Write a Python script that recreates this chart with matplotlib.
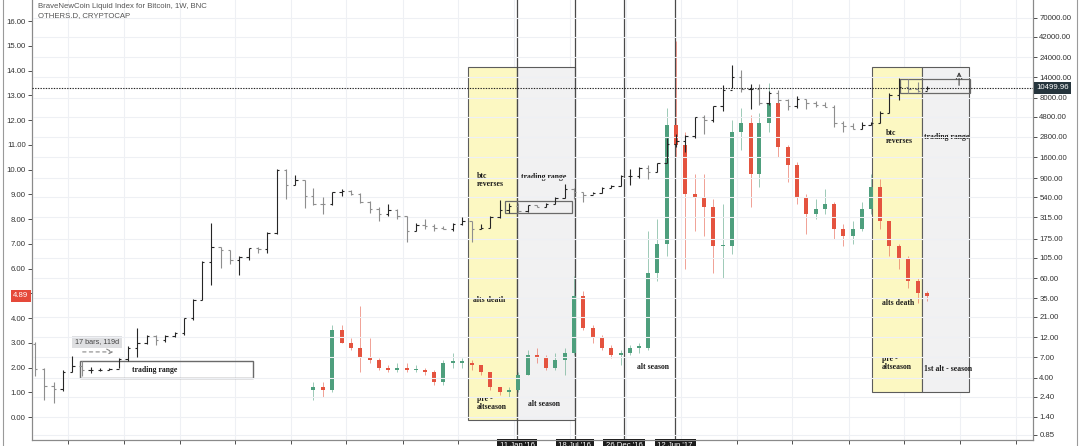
import datetime as dt
import numpy as np
import matplotlib
matplotlib.use("Agg")
import matplotlib.pyplot as plt
import matplotlib.dates as mdates
from matplotlib.patches import Rectangle
from matplotlib.lines import Line2D

plt.rcParams['font.family'] = ['Liberation Sans', 'DejaVu Sans']

# ---------------- data (monthly) ----------------
btc_start = (2011, 9)
btc_first_open = 10.0
btc_close = [5.1, 3.25, 3.0, 4.7,
             5.5, 4.9, 4.9, 5.0, 5.15, 6.7, 9.1, 10.2, 12.4, 11.2, 12.6, 13.5,
             20.4, 33.4, 93, 139, 129, 97, 106, 135, 133, 204, 1130, 760,
             860, 565, 455, 445, 630, 640, 585, 480, 390, 340, 380, 320,
             217, 254, 244, 236, 230, 263, 284, 230, 236, 313, 377, 430,
             368, 437, 416, 448, 531, 673, 624, 573, 609, 700, 742, 964,
             970, 1190, 1080, 1350, 2300, 2480, 2870, 4730, 4340, 6470, 10000, 14000,
             10200, 10300, 6900, 9250, 7500, 6400, 7730, 7000, 6600, 6300, 4000, 3700,
             3440, 3800, 4100, 5300, 8550, 10800, 10100, 9600, 10499.96]
btc_high = [10.5, 5.3, 3.6, 4.9,
            7.2, 6.3, 5.4, 5.3, 5.2, 6.8, 9.6, 15.4, 12.9, 12.7, 12.8, 13.8,
            20.6, 34, 95, 266, 140, 129, 111, 135, 140, 210, 1165, 1150,
            1000, 860, 690, 540, 630, 680, 650, 600, 490, 410, 450, 390,
            320, 270, 300, 260, 246, 265, 315, 285, 260, 325, 500, 465,
            460, 440, 440, 465, 540, 780, 700, 625, 615, 720, 750, 975,
            1150, 1210, 1290, 1350, 2700, 2980, 2920, 4750, 4980, 6470, 11400, 19700,
            17200, 11800, 11700, 9760, 9990, 7770, 8500, 7760, 7400, 7100, 6550, 4300,
            4100, 4200, 4150, 5650, 9100, 13800, 13200, 12300, 10950]
btc_low = [4.2, 2.2, 2.0, 2.8,
           4.7, 4.2, 4.6, 4.8, 4.9, 5.2, 6.4, 7.1, 10.0, 9.8, 10.7, 12.3,
           12.9, 19.5, 33, 50, 79, 88, 65, 98, 120, 118, 200, 520,
           750, 400, 440, 340, 440, 555, 570, 460, 350, 280, 320, 300,
           160, 213, 230, 213, 227, 218, 254, 160, 228, 235, 310, 355,
           351, 360, 410, 413, 444, 530, 518, 470, 590, 605, 690, 740,
           760, 915, 890, 1060, 1350, 2100, 1850, 2700, 2970, 4150, 5600, 10600,
           9300, 6000, 6600, 6600, 7050, 5800, 6100, 5900, 6200, 6200, 3600, 3200,
           3400, 3400, 3850, 4090, 5350, 7500, 9100, 9350, 9850]

oth_start = (2014, 3)
oth_first_open = 1.1
oth_close = [1.2, 1.1, 3.5, 3.0, 2.8, 2.4, 2.3, 2.0, 1.9, 2.0,
             1.9, 1.9, 1.8, 1.4, 2.2, 2.2, 2.2, 2.1, 1.8, 1.2, 1.0, 1.1,
             1.7, 2.5, 2.4, 2.0, 2.3, 2.6, 4.9, 3.6, 3.2, 2.8, 2.5, 2.6,
             2.8, 2.8, 5.8, 7.0, 11.8, 11.0, 9.0, 8.9, 8.5, 6.9, 6.9, 11.5,
             11.9, 9.8, 11.9, 12.7, 10.9, 10.2, 8.9, 8.2, 8.4, 8.6, 7.6, 7.3,
             7.6, 8.4, 9.3, 7.9, 6.9, 6.4, 5.5, 5.0, 4.89]
oth_high = [1.4, 1.4, 3.7, 3.7, 3.2, 4.5, 3.2, 2.4, 2.1, 2.2,
            2.2, 2.1, 2.0, 1.9, 2.3, 2.6, 2.4, 2.3, 2.1, 1.8, 1.2, 1.2,
            1.8, 2.7, 2.8, 2.5, 2.6, 2.8, 5.7, 5.1, 3.7, 3.3, 2.9, 2.7,
            2.9, 3.0, 7.5, 8.0, 12.5, 15.2, 11.5, 9.8, 9.8, 8.8, 8.6, 12.0,
            12.5, 12.2, 12.3, 13.5, 13.0, 11.0, 10.3, 9.0, 8.8, 9.2, 8.7, 7.8,
            7.9, 8.7, 9.8, 9.6, 7.9, 7.0, 6.5, 5.6, 5.1]
oth_low = [0.7, 0.8, 1.0, 3.0, 2.7, 1.8, 2.2, 1.9, 1.8, 1.8,
           1.8, 1.8, 1.7, 1.3, 1.3, 2.0, 2.0, 1.9, 1.7, 1.1, 0.9, 0.8,
           1.0, 1.7, 2.2, 1.9, 1.9, 1.7, 2.5, 3.5, 3.0, 2.7, 2.4, 2.1,
           2.5, 2.6, 2.7, 5.5, 6.5, 10.5, 6.0, 7.5, 7.3, 5.8, 5.6, 6.6,
           10.8, 8.5, 9.3, 11.5, 10.5, 9.5, 8.6, 7.4, 8.0, 8.2, 7.2, 6.9,
           7.0, 7.5, 8.2, 7.6, 6.5, 6.0, 5.2, 4.6, 4.7]

left_ticks = list(range(0, 17))
right_ticks = [0.85, 1.4, 2.4, 4, 7, 12, 21, 35, 60, 105, 175, 315, 540, 900,
               1600, 2800, 4800, 8000, 14000, 24000, 42000, 70000]
event_dates = ["2016-01-11", "2016-07-18", "2016-12-26", "2017-06-12"]
event_labels = ["11 Jan '16", "18 Jul '16", "26 Dec '16", "12 Jun '17"]
last_btc = 10499.96
last_oth = 4.89


def months(start, n):
    y, m = start
    out = []
    for _ in range(n):
        out.append(dt.date(y, m, 15))
        m += 1
        if m > 12:
            m = 1
            y += 1
    return out


def d(s):
    return mdates.date2num(dt.date.fromisoformat(s))


# ---------------- figure ----------------
W, H = 1080, 446
fig = plt.figure(figsize=(W / 100, H / 100), dpi=100)
fig.patch.set_facecolor('white')
ax = fig.add_axes([32 / W, 6 / H, 1001 / W, 440 / H])
ax2 = ax.twinx()

ppd = 111.5 / 365.25
x2012 = mdates.date2num(dt.date(2012, 1, 1))
xmin, xmax = x2012 - 36 / ppd, x2012 + 965 / ppd
ax.set_xlim(xmin, xmax)
ax.set_ylim(-0.929, 16.85)
ax2.set_yscale('log')
ax2.set_ylim(0.742, 114100)

# grid
grid_c = '#eef0f4'
half_years = [dt.date(y, m, 1) for y in range(2012, 2021) for m in (1, 7)]
for hd in half_years:
    ax.axvline(mdates.date2num(hd), color=grid_c, lw=0.8, zorder=0)
for v in right_ticks:
    ax2.axhline(v, color=grid_c, lw=0.8, zorder=0)

# boxes
yel, gry, edge = '#fcf8c2', '#f1f1f2', '#5c5c5c'
boxes = [("2015-08-03", "2016-01-11", -0.12, 14.14, yel),
         ("2016-01-11", "2016-07-18", -0.12, 14.14, gry),
         ("2019-03-19", "2019-08-30", 1.01, 14.14, yel),
         ("2019-08-30", "2020-01-31", 1.01, 14.14, gry)]
for a, b, y0, y1, fc in boxes:
    ax.add_patch(Rectangle((d(a), y0), d(b) - d(a), y1 - y0, facecolor=fc,
                           edgecolor=edge, lw=0.8, zorder=0.5))

# event vertical lines
for s in event_dates:
    ax.axvline(d(s), color='#4a4a4a', lw=0.9, zorder=1)

# OTHERS.D candles (left axis)
ox = mdates.date2num(months(oth_start, len(oth_close)))
oc = np.array(oth_close, float)
oo = np.concatenate([[oth_first_open], oc[:-1]])
oh = np.array(oth_high, float)
ol = np.array(oth_low, float)
up_c, dn_c = '#4e9f7d', '#e4533f'
ocol = [up_c if c >= o else dn_c for o, c in zip(oo, oc)]
ax.vlines(ox, ol, oh, colors=ocol, lw=0.7, alpha=0.55, zorder=2)
ax.bar(ox, np.maximum(np.abs(oc - oo), 0.06), bottom=np.minimum(oo, oc),
       width=13, color=ocol, zorder=2.2, lw=0)

# BTC OHLC bars (right axis, log)
bx = mdates.date2num(months(btc_start, len(btc_close)))
bc = np.array(btc_close, float)
bo = np.concatenate([[btc_first_open], bc[:-1]])
bh = np.array(btc_high, float)
bl = np.array(btc_low, float)
bcol = ['#262626' if c >= o else '#8e8e8e' for o, c in zip(bo, bc)]
ax2.vlines(bx, bl, bh, colors=bcol, lw=0.8, zorder=3)
ax2.hlines(bo, bx - 8, bx, colors=bcol, lw=0.8, zorder=3)
ax2.hlines(bc, bx, bx + 8, colors=bcol, lw=0.8, zorder=3)

# last price dotted line
ax2.axhline(last_btc, color='#222222', lw=0.8, ls=(0, (1.2, 1.2)), zorder=4)

# drawings: trading range rectangles, arrows
rc = '#6a6a6a'
ax.add_patch(Rectangle((d("2012-02-09"), 1.58), d("2013-08-29") - d("2012-02-09"),
                       2.26 - 1.58, fill=False, edgecolor=rc, lw=1.0, zorder=3))
ax.add_patch(Rectangle((d("2015-12-03"), 8.24), d("2016-07-09") - d("2015-12-03"),
                       8.73 - 8.24, fill=False, edgecolor=rc, lw=0.9, zorder=3))
ax.add_patch(Rectangle((d("2019-06-18"), 13.09), d("2020-02-02") - d("2019-06-18"),
                       13.66 - 13.09, fill=False, edgecolor=rc, lw=0.9, zorder=3))
ax.annotate('', xy=(d("2019-12-29"), 14.05), xytext=(d("2019-12-29"), 13.29),
            arrowprops=dict(arrowstyle='->', color='#444444', lw=0.8), zorder=5)
ax.annotate('', xy=(d("2012-06-07"), 2.63), xytext=(d("2012-02-09"), 2.63),
            arrowprops=dict(arrowstyle='->', color='#888888', lw=0.8,
                            linestyle=(0, (3, 3))), zorder=5)
ax.text(d("2012-04-05"), 3.03, "17 bars, 119d", ha='center', va='center',
        fontsize=5.2, color='#444444', zorder=6,
        bbox=dict(boxstyle='square,pad=0.35', fc='#dedfe1', ec='none'))

# annotation texts
serif = dict(family=['Liberation Serif', 'DejaVu Serif'], weight='bold',
             fontsize=5.6, color='#1a1a1a', zorder=6, va='center', ha='left',
             linespacing=1.1)
ax.text(d("2012-10-12"), 1.90, "trading range", **{**serif, 'ha': 'center'})
ax.text(d("2015-09-02"), 9.58, "btc\nreverses", **serif)
ax.text(d("2016-01-25"), 9.70, "trading range", **serif)
ax.text(d("2015-08-20"), 4.73, "alts death", **serif)
ax.text(d("2015-09-02"), 0.57, "pre -\naltseason", **serif)
ax.text(d("2016-02-16"), 0.53, "alt season", **serif)
ax.text(d("2017-02-07"), 2.02, "alt season", **serif)
ax.text(d("2019-05-04"), 11.31, "btc\nreverses", **serif)
ax.text(d("2019-09-06"), 11.31, "trading range", **serif)
ax.text(d("2019-04-20"), 4.61, "alts death", **serif)
ax.text(d("2019-04-20"), 2.18, "pre -\naltseason", **serif)
ax.text(d("2019-09-06"), 1.94, "1st alt - season", **serif)

# axes styling
spine_c = '#8a8a8a'
for a in (ax, ax2):
    a.spines['top'].set_visible(False)
    for s in ('left', 'right', 'bottom'):
        a.spines[s].set_color(spine_c)
        a.spines[s].set_linewidth(0.8)

ax.set_yticks(left_ticks)
# the 5.00 label sits under the last-value marker, as in the reference
ax.set_yticklabels(['' if v == 5 else f"{v:.2f}" for v in left_ticks])
ax.tick_params(axis='y', labelsize=5.6, colors='#333333', length=3, width=0.6, pad=1.5)
ax2.set_yticks(right_ticks)
ax2.set_yticklabels([f"{v:.2f}" for v in right_ticks])
ax2.yaxis.set_minor_locator(matplotlib.ticker.NullLocator())
ax2.tick_params(axis='y', which='major', labelsize=5.6, colors='#333333', length=3,
                width=0.6, pad=1.5)

xt_dates = [hd for hd in half_years if not (dt.date(2016, 1, 1) <= hd <= dt.date(2017, 7, 1))]
ax.set_xticks(mdates.date2num(xt_dates))
ax.set_xticklabels([str(x.year) if x.month == 1 else 'Jul' for x in xt_dates])
ax.tick_params(axis='x', labelsize=5.6, colors='#333333', length=3, width=0.6, pad=1.5)

# event date labels at the bottom
for s, lab in zip(event_dates, event_labels):
    ax.annotate(lab, xy=(d(s), 0), xycoords=('data', 'axes fraction'),
                xytext=(0, -1.2), textcoords='offset points', ha='center', va='top',
                fontsize=5.6, color='white', annotation_clip=False, zorder=10,
                bbox=dict(boxstyle='square,pad=0.35', fc='#1c1c1c', ec='none'))

# last-value labels on the scales
ax.annotate(f"{last_oth:.2f}", xy=(0, last_oth), xycoords=('axes fraction', 'data'),
            xytext=(-2.5, 0), textcoords='offset points', ha='right', va='center',
            fontsize=5.6, color='white', annotation_clip=False, zorder=10,
            bbox=dict(boxstyle='square,pad=0.3', fc='#e5493a', ec='none'))
ax2.annotate(f"{last_btc:.2f}", xy=(1, last_btc), xycoords=('axes fraction', 'data'),
             xytext=(2.5, 0), textcoords='offset points', ha='left', va='center',
             fontsize=5.6, color='white', annotation_clip=False, zorder=10,
             bbox=dict(boxstyle='square,pad=0.3', fc='#26353d', ec='none'))

# titles
fig.text(38 / W, 1 - 6 / H, "BraveNewCoin Liquid Index for Bitcoin, 1W, BNC",
         fontsize=5.6, color='#555555', va='center', ha='left')
fig.text(38 / W, 1 - 16 / H, "OTHERS.D, CRYPTOCAP",
         fontsize=5.6, color='#555555', va='center', ha='left')

# outer frame lines of the screenshot
for xp in (3, 1077):
    fig.add_artist(Line2D([xp / W, xp / W], [0, 1], transform=fig.transFigure,
                          color='#9a9a9a', lw=0.8))

fig.savefig("out.png", dpi=100, facecolor='white')
